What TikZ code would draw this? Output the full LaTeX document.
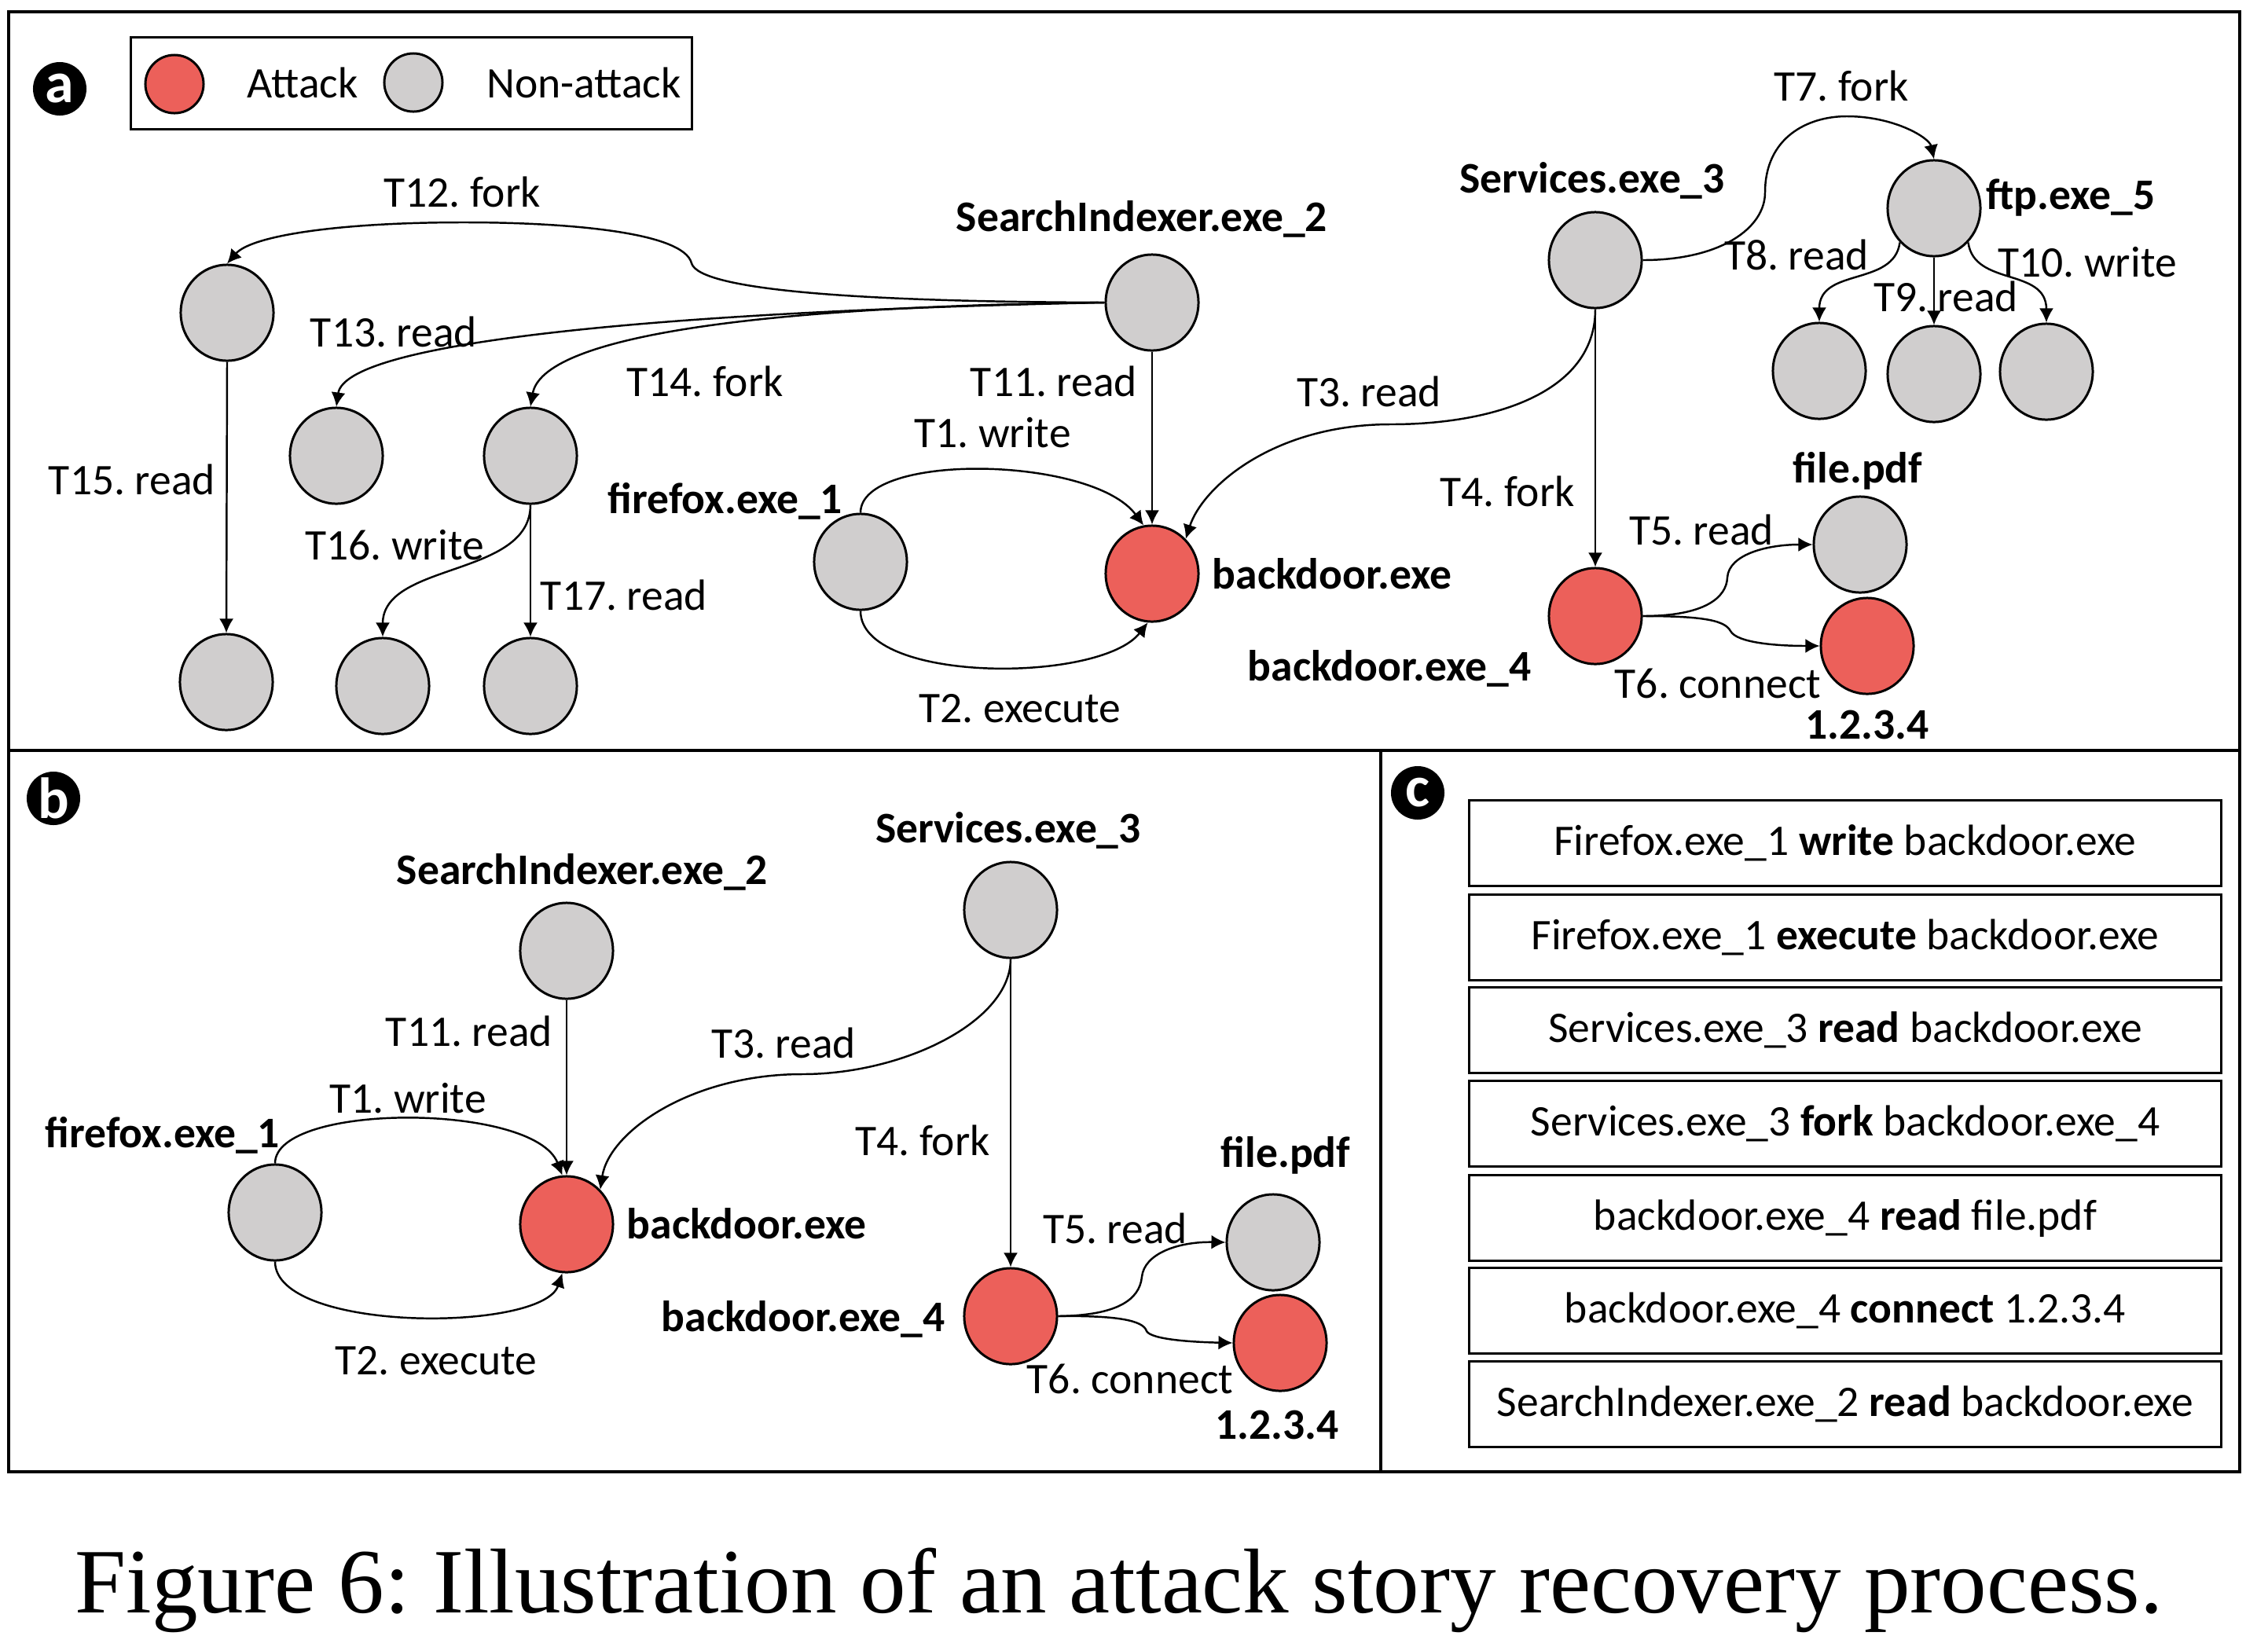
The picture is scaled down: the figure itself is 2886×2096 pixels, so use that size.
\documentclass[tikz,border=0pt]{standalone}
\usepackage{fontspec}
\setmainfont{Carlito}
\newfontfamily\capfont{Liberation Serif}
\usetikzlibrary{arrows.meta,shapes.geometric}
\definecolor{attred}{RGB}{236,96,90}
\definecolor{nongray}{RGB}{208,206,206}
\newcommand\labelsize{\fontsize{15.8}{19}\selectfont}
\frenchspacing

\begin{document}
\begin{tikzpicture}[x=0.01cm,y=-0.01cm,line width=0.7pt,font=\labelsize,
  proc/.style={ellipse,draw,line width=0.85pt,minimum width=1.18cm,minimum height=1.22cm,inner sep=0pt},
  att/.style={proc,fill=attred},
  non/.style={proc,fill=nongray},
  key/.style={circle,draw,line width=0.85pt,minimum size=0.74cm,inner sep=0pt},
  lbl/.style={inner sep=0pt,text height=0.36cm,text depth=0cm},
  nm/.style={lbl,font=\labelsize\bfseries},
  edge/.style={-{Latex[length=0.18cm,width=0.18cm]}},
  tag/.style={circle,fill=black,text=white,minimum size=0.68cm,inner sep=0pt,
    font=\fontsize{21}{21}\selectfont\bfseries},
  rowbox/.style={draw,line width=0.85pt,minimum width=9.56cm,minimum height=1.08cm,inner sep=0pt}]
  \useasboundingbox (0,0) rectangle (2886,2096);
  \draw[line width=1pt] (11,15) rectangle (2850,1873);
  \draw[line width=1pt] (11,955) -- (2850,955);
  \draw[line width=1pt] (1757,955) -- (1757,1873);
  \foreach \x/\y/\t in {76/113/a,68/1016/b,1804/1009/c}
    \node[tag] (tag\t) at (\x,\y) {\t};
  % legend
  \node[draw,line width=0.85pt,minimum width=7.13cm,minimum height=1.16cm] (legend) at (523.5,106) {};
  \node[key,fill=attred] (keyatt) at (222,107) {};
  \node[lbl] (keyatttxt) at (385,106) {Attack};
  \node[key,fill=nongray] (keynon) at (526,105) {};
  \node[lbl] (keynontxt) at (743,106) {Non-attack};
  % panel a
  \node[non] (asi) at (1466,385) {};
  \node[non] (asvc) at (2030,331) {};
  \node[non] (aftp) at (2461,265) {};
  \node[non] (aftpa) at (2315,472) {};
  \node[non] (aftpb) at (2461,476) {};
  \node[non] (aftpc) at (2604,473) {};
  \node[att] (abd) at (1466,730) {};
  \node[non] (aff) at (1095,715) {};
  \node[att] (abdf) at (2030,784) {};
  \node[non] (apdf) at (2367,693) {};
  \node[att] (aip) at (2376,822) {};
  \node[non] (ac12) at (289,398) {};
  \node[non] (ac13) at (428,580) {};
  \node[non] (ac14) at (675,580) {};
  \node[non] (ac15) at (288,868) {};
  \node[non] (ac16) at (487,873) {};
  \node[non] (ac17) at (675,873) {};
  \foreach \x/\y/\t [count=\i] in {588/245/T12. fork,501/423/T13. read,897/486/T14. fork,
      1341/486/T11. read,1263/551/T1. write,168/611/T15. read,502/694/T16. write,
      794/758/T17. read,1298/901/T2. execute,1742/499/T3. read,2343/110/T7. fork,
      2286/325/T8. read,2476/378/T9. read,2656/334/T10. write,1918/626/T4. fork,
      2165/675/T5. read,2186/870/T6. connect}
    \node[lbl] (alab\i) at (\x,\y) {\t};
  \foreach \x/\y/\t [count=\i] in {1453/276/SearchIndexer.exe\_2,923/635/firefox.exe\_1,
      1695/731/backdoor.exe,2026/227/Services.exe\_3,2635/248/ftp.exe\_5,
      2364/596/file.pdf,1768/848/backdoor.exe\_4,2376/922/1.2.3.4}
    \node[nm] (aname\i) at (\x,\y) {\t};
  \draw[edge] (asi.west) .. controls (1100,384) and (890,370) .. (880,335)
    .. controls (870,295) and (720,283) .. (590,283)
    .. controls (430,283) and (320,300) .. (ac12.north);
  \draw[edge] (asi.west) .. controls (900,395) and (440,430) .. (ac13.north);
  \draw[edge] (asi.west) .. controls (950,390) and (690,430) .. (ac14.north);
  \draw[edge] (asi.south) -- (abd.north);
  \draw[edge] (aff.north) .. controls (1095,575) and (1390,580) .. (abd.100);
  \draw[edge] (aff.south) .. controls (1095,870) and (1400,870) .. (abd.265);
  \draw[edge] (asvc.south) .. controls (2030,500) and (1900,540) .. (1770,540)
    .. controls (1620,540) and (1530,620) .. (abd.north east);
  \draw[edge] (asvc.south) -- (abdf.north);
  \draw[edge] (asvc.east) .. controls (2190,331) and (2246,290) .. (2246,245)
    .. controls (2246,175) and (2300,148) .. (2350,148)
    .. controls (2410,148) and (2455,175) .. (aftp.north);
  \draw[edge] (aftp.225) .. controls (2410,365) and (2315,340) .. (aftpa.north);
  \draw[edge] (aftp.south) -- (aftpb.north);
  \draw[edge] (aftp.315) .. controls (2512,365) and (2604,340) .. (aftpc.north);
  \draw[edge] (ac12.south) -- (ac15.north);
  \draw[edge] (ac14.south) .. controls (675,735) and (487,715) .. (ac16.north);
  \draw[edge] (ac14.south) -- (ac17.north);
  \draw[edge] (abdf.east) .. controls (2170,784) and (2197,760) .. (2198,735)
    .. controls (2200,705) and (2250,693) .. (apdf.west);
  \draw[edge] (abdf.east) .. controls (2170,784) and (2195,790) .. (2202,803)
    .. controls (2210,818) and (2260,822) .. (aip.west);
  % panel b
  \node[non] (bsi) at (721,1210) {};
  \node[non] (bsvc) at (1286,1158) {};
  \node[non] (bff) at (350,1543) {};
  \node[att] (bbd) at (721,1558) {};
  \node[att] (bbdf) at (1286,1675) {};
  \node[non] (bpdf) at (1620,1581) {};
  \node[att] (bip) at (1629,1709) {};
  \foreach \x/\y/\t [count=\i] in {597/1313/T11. read,997/1328/T3. read,519/1398/T1. write,
      1174/1452/T4. fork,1419/1564/T5. read,1438/1755/T6. connect,555/1731/T2. execute}
    \node[lbl] (blab\i) at (\x,\y) {\t};
  \foreach \x/\y/\t [count=\i] in {741/1107/SearchIndexer.exe\_2,1283/1054/Services.exe\_3,
      207/1442/firefox.exe\_1,950/1558/backdoor.exe,1636/1467/file.pdf,
      1022/1676/backdoor.exe\_4,1625/1813/1.2.3.4}
    \node[nm] (bname\i) at (\x,\y) {\t};
  \draw[edge] (bsi.south) -- (bbd.north);
  \draw[edge] (bff.north) .. controls (350,1403) and (680,1403) .. (bbd.95);
  \draw[edge] (bff.south) .. controls (350,1696) and (690,1696) .. (bbd.265);
  \draw[edge] (bsvc.south) .. controls (1286,1300) and (1150,1367) .. (1021,1367)
    .. controls (880,1367) and (775,1440) .. (bbd.north east);
  \draw[edge] (bsvc.south) -- (bbdf.north);
  \draw[edge] (bbdf.east) .. controls (1420,1674) and (1450,1655) .. (1453,1625)
    .. controls (1456,1595) and (1500,1580) .. (bpdf.west);
  \draw[edge] (bbdf.east) .. controls (1420,1674) and (1455,1680) .. (1459,1694)
    .. controls (1465,1705) and (1520,1708) .. (bip.west);
  % panel c
  \foreach \y/\src/\op/\dst [count=\i] in {
      1073/Firefox.exe\_1/write/backdoor.exe,
      1193/Firefox.exe\_1/execute/backdoor.exe,
      1311/Services.exe\_3/read/backdoor.exe,
      1430/Services.exe\_3/fork/backdoor.exe\_4,
      1550/backdoor.exe\_4/read/file.pdf,
      1668/backdoor.exe\_4/connect/1.2.3.4,
      1787/SearchIndexer.exe\_2/read/backdoor.exe}
    \node[rowbox] (row\i) at (2348,\y) {\src{} \textbf{\op} \dst};
  \node[font=\capfont\fontsize{33.3}{40}\selectfont,anchor=base,inner sep=0pt] (caption)
    at (1424,2052) {Figure 6: Illustration of an attack story recovery process.};
\end{tikzpicture}
\end{document}
